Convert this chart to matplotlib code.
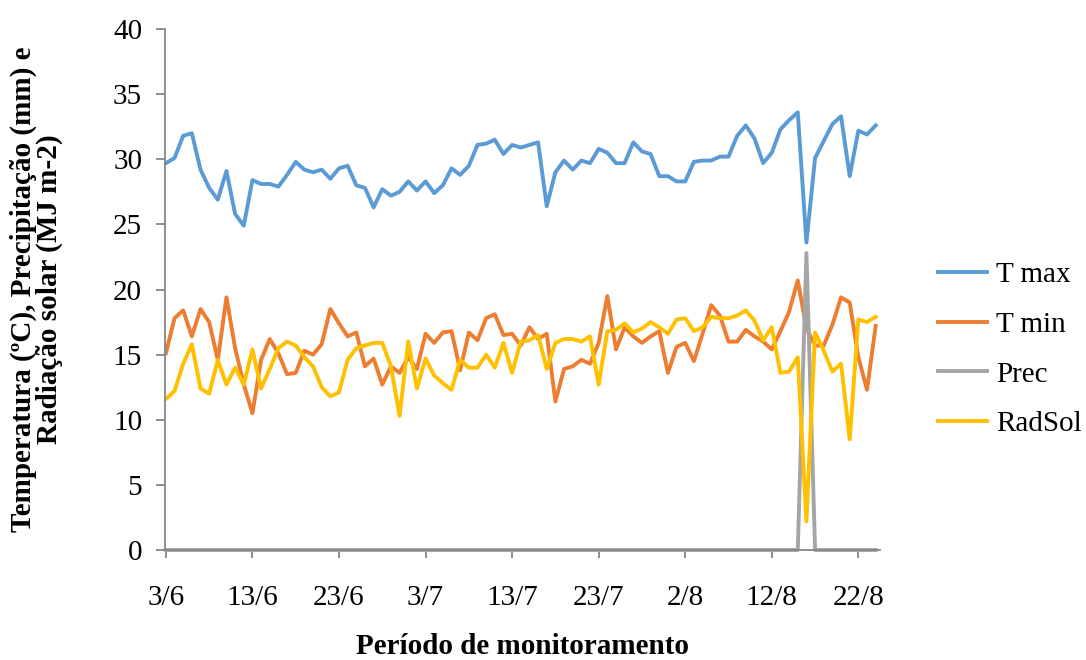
import matplotlib
matplotlib.use("Agg")
import matplotlib.pyplot as plt
import numpy as np

# daily series, 3/6 .. 24/8
t_max = [29.7, 30.1, 31.8, 32.0, 29.2, 27.8, 26.9, 29.1, 25.8, 24.9,
         28.4, 28.1, 28.1, 27.9, 28.8, 29.8, 29.2, 29.0, 29.2, 28.5,
         29.3, 29.5, 28.0, 27.8, 26.3, 27.7, 27.2, 27.5, 28.3, 27.6,
         28.3, 27.4, 28.0, 29.3, 28.8, 29.5, 31.1, 31.2, 31.5, 30.4,
         31.1, 30.9, 31.1, 31.3, 26.4, 29.0, 29.9, 29.2, 29.9, 29.7,
         30.8, 30.5, 29.7, 29.7, 31.3, 30.6, 30.4, 28.7, 28.7, 28.3,
         28.3, 29.8, 29.9, 29.9, 30.2, 30.2, 31.8, 32.6, 31.6, 29.7,
         30.5, 32.3, 33.0, 33.6, 23.6, 30.1, 31.4, 32.7, 33.3, 28.7,
         32.2, 31.9, 32.6]
t_min = [15.1, 17.8, 18.4, 16.4, 18.5, 17.5, 14.6, 19.4, 15.5, 12.7,
         10.5, 14.6, 16.2, 15.1, 13.5, 13.6, 15.3, 15.0, 15.8, 18.5,
         17.4, 16.4, 16.7, 14.1, 14.7, 12.7, 14.1, 13.6, 14.8, 13.9,
         16.6, 15.9, 16.7, 16.8, 13.8, 16.7, 16.1, 17.8, 18.1, 16.5,
         16.6, 15.7, 17.1, 16.2, 16.6, 11.4, 13.9, 14.1, 14.6, 14.3,
         15.9, 19.5, 15.4, 17.1, 16.4, 15.9, 16.4, 16.8, 13.6, 15.6,
         15.9, 14.5, 16.6, 18.8, 18.0, 16.0, 16.0, 16.9, 16.4, 16.0,
         15.4, 16.8, 18.3, 20.7, 17.0, 15.7, 15.7, 17.3, 19.4, 19.0,
         14.8, 12.3, 17.2]
prec = [0.0] * 74 + [22.8] + [0.0] * 8
rad_sol = [11.6, 12.2, 14.3, 15.8, 12.4, 12.0, 14.6, 12.7, 14.0, 12.7,
           15.4, 12.4, 13.9, 15.5, 16.0, 15.7, 14.8, 14.1, 12.5, 11.8,
           12.1, 14.6, 15.5, 15.7, 15.9, 15.9, 14.1, 10.3, 16.0, 12.4,
           14.7, 13.4, 12.8, 12.3, 14.6, 14.0, 14.0, 15.0, 14.0, 15.9,
           13.6, 16.0, 16.1, 16.5, 13.9, 15.9, 16.2, 16.2, 16.0, 16.4,
           12.7, 16.8, 16.9, 17.4, 16.7, 17.0, 17.5, 17.1, 16.6, 17.7,
           17.8, 16.8, 17.1, 17.9, 17.8, 17.8, 18.0, 18.4, 17.6, 16.1,
           17.1, 13.6, 13.7, 14.8, 2.2, 16.7, 15.3, 13.7, 14.3, 8.5,
           17.7, 17.5, 17.9]

tick_days = [0, 10, 20, 30, 40, 50, 60, 70, 80]
tick_labels = ['3/6', '13/6', '23/6', '3/7', '13/7', '23/7', '2/8', '12/8', '22/8']

plt.rcParams['font.family'] = ['Liberation Serif', 'DejaVu Serif']

fig = plt.figure(figsize=(10.86, 6.6), dpi=100)
ax = fig.add_axes([165 / 1086, 110 / 660, 715 / 1086, 521 / 660])

days = np.arange(len(t_max))
lw = 2.8
ax.plot(days, t_max, color='#5B9BD5', lw=lw, label='T max', solid_joinstyle='round')
ax.plot(days, t_min, color='#ED7D31', lw=lw, label='T min', solid_joinstyle='round')
ax.plot(days, prec, color='#A5A5A5', lw=lw, label='Prec', solid_joinstyle='round', clip_on=False)
ax.plot(days, rad_sol, color='#FFC000', lw=lw, label='RadSol', solid_joinstyle='round')

ax.set_xlim(-0.1, 82.5)
ax.set_ylim(0, 40)
ax.set_yticks(range(0, 41, 5))
ax.set_xticks(tick_days)
ax.set_xticklabels(tick_labels)

for side in ['top', 'right']:
    ax.spines[side].set_visible(False)
for side in ['left', 'bottom']:
    ax.spines[side].set_color('#868686')
    ax.spines[side].set_linewidth(1.3)

ax.tick_params(axis='x', direction='out', length=6, width=1.3, color='#868686',
               labelsize=21, pad=19)
ax.tick_params(axis='y', direction='out', length=6.5, width=1.3, color='#868686',
               labelsize=21, pad=10)

ax.set_xlabel('Período de monitoramento', fontsize=21, fontweight='bold')
ax.xaxis.set_label_coords(0.5, -0.16)
ax.set_ylabel('Temperatura (ºC), Precipitação (mm) e\nRadiação solar (MJ m-2)',
              fontsize=21, fontweight='bold', linespacing=0.97)
ax.yaxis.set_label_coords(-0.142, 0.5)

fig.legend(loc='upper left', bbox_to_anchor=(926 / 1086, 1 - 250 / 660),
           frameon=False, fontsize=21, handlelength=1.7, labelspacing=0.8,
           handletextpad=0.3, borderaxespad=0)

fig.savefig('out.png', dpi=100)
